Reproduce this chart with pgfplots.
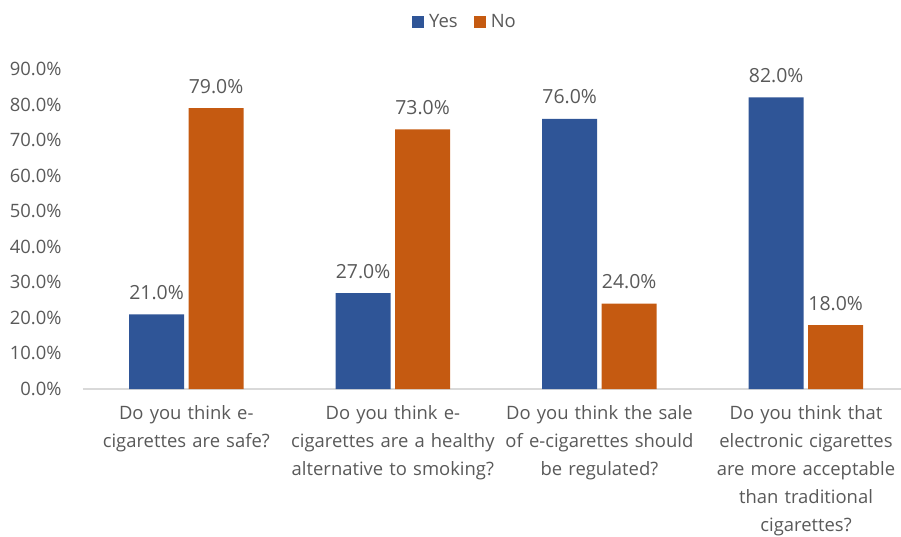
\documentclass[border=0pt]{standalone}
\usepackage{pgfplots}
\pgfplotsset{compat=1.18}
\usepackage{fontspec}
\setmainfont{Open Sans}
\definecolor{cYes}{HTML}{2F5597}
\definecolor{cNo}{HTML}{C55A11}
\definecolor{txt}{HTML}{595959}
\definecolor{axl}{HTML}{D9D9D9}
\begin{document}
\begin{tikzpicture}
\begin{axis}[
  scale only axis, width=818bp, height=320bp,
  xmin=-0.5, xmax=3.46, ymin=0, ymax=90,
  ybar, bar width=55bp,
  /pgf/number format/assume math mode=true,
  xtick={0,1,2,3},
  xticklabels={{Do you think e-\\cigarettes are safe?},
               {Do you think e-\\cigarettes are a healthy\\alternative to smoking?},
               {Do you think the sale\\of e-cigarettes should\\be regulated?},
               {Do you think that\\electronic cigarettes\\are more acceptable\\than traditional\\cigarettes?}},
  ytick={0,10,...,90},
  yticklabel={\pgfmathprintnumber[fixed,fixed zerofill,precision=1]{\tick}\%},
  axis x line*=bottom, axis y line*=left,
  x axis line style={draw=axl, line width=1.5bp, -},
  y axis line style={draw=none},
  major tick length=0pt,
  tick label style={font=\fontsize{18.5}{28}\selectfont, text=txt},
  x tick label style={align=center, anchor=north, yshift=-13bp, text width=220bp},
  y tick label style={xshift=-18bp},
  nodes near coords={\pgfmathprintnumber[fixed,fixed zerofill,precision=1]{\pgfplotspointmeta}\%},
  every node near coord/.append style={font=\fontsize{19.5}{22}\selectfont, text=txt, yshift=11bp},
  legend columns=2,
  legend style={at={(0.467,1.147)}, anchor=center, draw=none, fill=none,
    font=\fontsize{18.5}{22}\selectfont, text=txt,
    /tikz/every odd column/.append style={column sep=3bp},
    /tikz/every even column/.append style={column sep=14bp}},
]
\addplot[fill=cYes, draw=none, bar shift=-29.75bp,
  legend image code/.code={\fill[cYes] (0bp,-6bp) rectangle (12bp,6bp);}]
  coordinates {(0,21) (1,27) (2,76) (3,82)};
\addlegendentry{Yes}
\addplot[fill=cNo, draw=none, bar shift=29.75bp,
  legend image code/.code={\fill[cNo] (0bp,-6bp) rectangle (12bp,6bp);}]
  coordinates {(0,79) (1,73) (2,24) (3,18)};
\addlegendentry{No}
\end{axis}
\pgfresetboundingbox
\path[use as bounding box] (-83bp,-148bp) rectangle (818bp,389bp);
\end{tikzpicture}
\end{document}
